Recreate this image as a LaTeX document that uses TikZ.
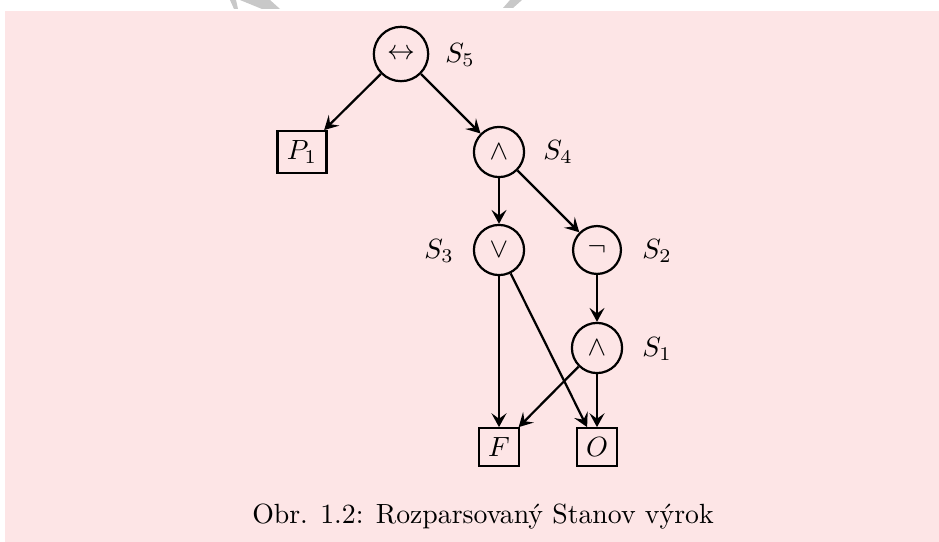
\documentclass[tikz,border=0pt]{standalone}
\usetikzlibrary{arrows.meta}
\definecolor{bgpink}{RGB}{253,229,230}
\definecolor{markgray}{RGB}{200,200,200}
\begin{document}
\begin{tikzpicture}[x=0.36pt,y=-0.36pt,
  op/.style={circle,draw,thick},
  leaf/.style={rectangle,draw,thick},
  tag/.style={inner sep=0pt},
  edge/.style={thick,-{Stealth[length=5pt,width=5.4pt,inset=2pt]}}]
\useasboundingbox (0,0) rectangle (939,542);
\fill[white] (0,0) rectangle (939,542);
% grey strokes along the upper edge
\fill[markgray] (230,0) -- (236,0) -- (238,9) -- (234,9) -- cycle;
\fill[markgray] (240,0) -- (270,0) -- (280,9) -- (262,9) -- cycle;
\fill[markgray] (510,0) -- (522,0) -- (513,8) -- (503,8) -- cycle;
% page background
\fill[bgpink] (5,11) rectangle (939,542);

% operator nodes
\node[op] (s5) at (401,54) {$\leftrightarrow$};
\node[op] (s4) at (499,152) {$\wedge$};
\node[op] (s3) at (499,250) {$\vee$};
\node[op] (s2) at (597,250) {$\neg$};
\node[op] (s1) at (597,348) {$\wedge$};
% leaves
\node[leaf] (p1) at (302,152) {$P_1$};
\node[leaf] (f) at (499,447) {$F$};
\node[leaf] (o) at (597,447) {$O$};
% subformula names
\node[tag] (l5) at (460,55) {$S_5$};
\node[tag] (l4) at (558,152) {$S_4$};
\node[tag] (l3) at (439,251) {$S_3$};
\node[tag] (l2) at (657,251) {$S_2$};
\node[tag] (l1) at (657,349) {$S_1$};

% edges
\draw[edge] (s5) -- (p1);
\draw[edge] (s5) -- (s4);
\draw[edge] (s4) -- (s3);
\draw[edge] (s4) -- (s2);
\draw[edge] (s2) -- (s1);
\draw[edge] (s3) -- (f);
\draw[edge] (s3) -- (o);
\draw[edge] (s1) -- (f);
\draw[edge] (s1) -- (o);

% caption
\node (cap) at (483,517) {Obr. 1.2: Rozparsovaný Stanov výrok};
\end{tikzpicture}
\end{document}
